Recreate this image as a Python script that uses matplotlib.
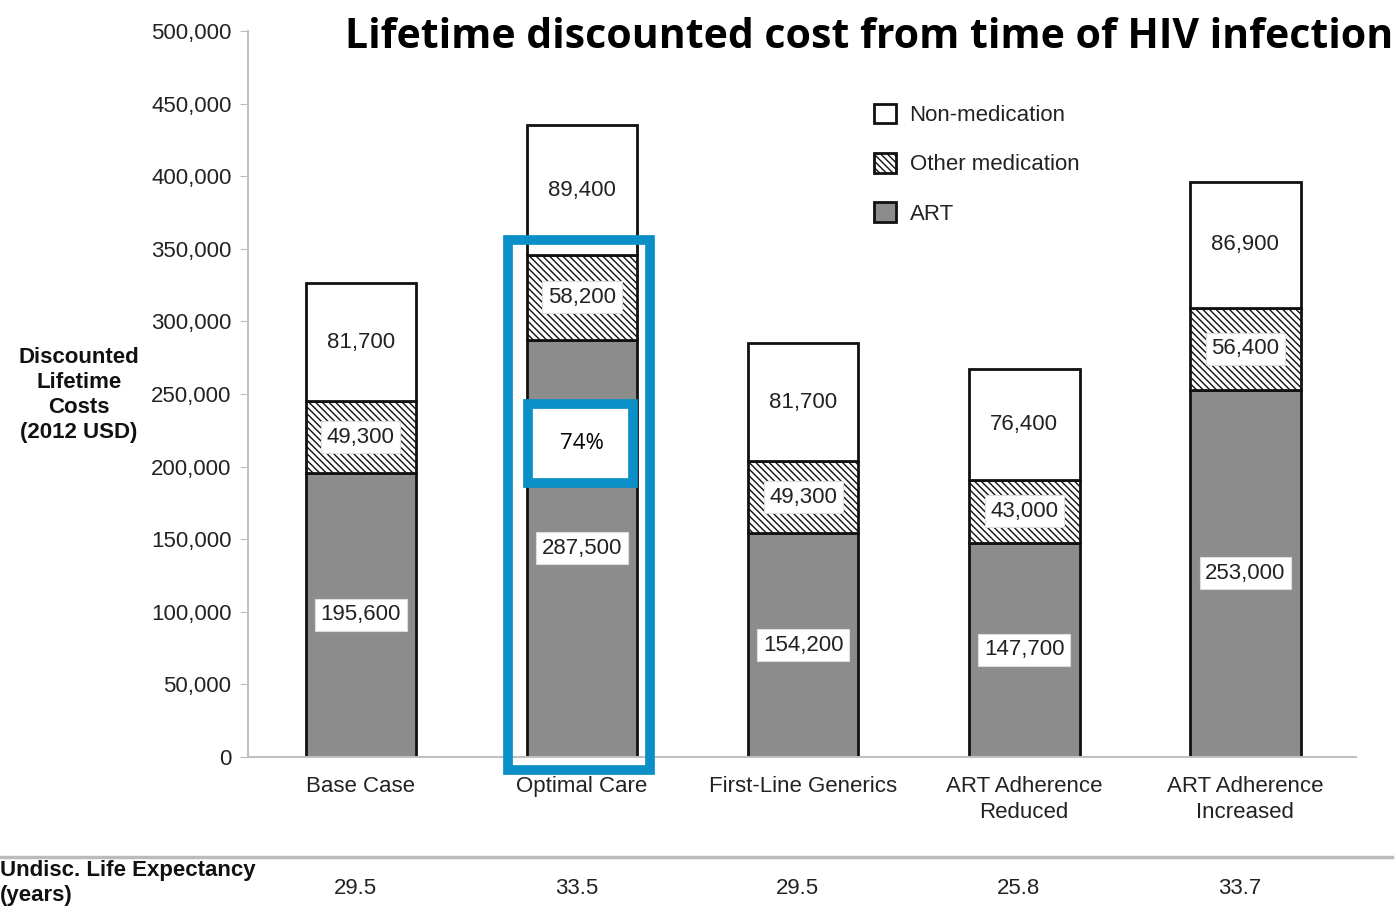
import numpy as np
import matplotlib
matplotlib.use('Agg')
import matplotlib.pyplot as plt
from matplotlib.patches import Rectangle

# ── Data ─────────────────────────────────────────────────────────────────────
scenarios = ['Base Case', 'Optimal Care', 'First-Line Generics',
             'ART Adherence\nReduced', 'ART Adherence\nIncreased']
art = [195600, 287500, 154200, 147700, 253000]
other_med = [49300, 58200, 49300, 43000, 56400]
non_med = [81700, 89400, 81700, 76400, 86900]
life_exp = ['29.5', '33.5', '29.5', '25.8', '33.7']
yticks = [0, 50000, 100000, 150000, 200000, 250000, 300000, 350000, 400000, 450000, 500000]

plt.rcParams['font.family'] = ['Liberation Sans', 'DejaVu Sans']
plt.rcParams['hatch.linewidth'] = 1.0

fig = plt.figure(figsize=(13.96, 9.22), dpi=100)
ax = fig.add_axes([0.1777, 0.179, 0.7936, 0.7874])

x = np.arange(len(scenarios))
w = 0.5
art = np.array(art)
other_med = np.array(other_med)
non_med = np.array(non_med)

b1 = ax.bar(x, art, w, color='#8c8c8c', edgecolor='#111111', linewidth=2, label='ART')
b2 = ax.bar(x, other_med, w, bottom=art, color='white', edgecolor='#111111',
            hatch='\\\\\\\\\\', linewidth=2, label='Other medication')
b3 = ax.bar(x, non_med, w, bottom=art + other_med, color='white', edgecolor='#111111',
            linewidth=2, label='Non-medication')

box = dict(boxstyle='square,pad=0.25', fc='white', ec='#dddddd', lw=0.8)
for i in range(len(x)):
    ax.text(x[i], art[i] / 2, f'{art[i]:,}', ha='center', va='center',
            fontsize=16, color='#222222', bbox=box)
    ax.text(x[i], art[i] + other_med[i] / 2, f'{other_med[i]:,}', ha='center', va='center',
            fontsize=16, color='#222222', bbox=box)
    ax.text(x[i], art[i] + other_med[i] + non_med[i] / 2, f'{non_med[i]:,}',
            ha='center', va='center', fontsize=16, color='#222222')

ax.set_xlim(-0.51, 4.5)
ax.set_ylim(0, 500000)
ax.set_yticks(yticks)
ax.set_yticklabels([f'{v:,}' for v in yticks], fontsize=16, color='#222222')
ax.set_xticks(x)
ax.set_xticklabels(scenarios, fontsize=16, color='#222222', linespacing=1.3)
ax.tick_params(axis='x', length=0, pad=14)
ax.tick_params(axis='y', length=6, color='#bbbbbb', pad=6)
for s in ['top', 'right']:
    ax.spines[s].set_visible(False)
for s in ['left', 'bottom']:
    ax.spines[s].set_color('#c0c0c0')
    ax.spines[s].set_linewidth(1.5)

fig.text(79 / 1396, 1 - 395 / 922, 'Discounted\nLifetime\nCosts\n(2012 USD)', ha='center',
         va='center', fontsize=16, fontweight='bold', color='#111111', linespacing=1.25)

# legend
leg = ax.legend(handles=[b3, b2, b1], loc='upper left', bbox_to_anchor=(0.565, 0.90),
                borderaxespad=0, borderpad=0, frameon=False, fontsize=16,
                handlelength=1.0, handleheight=1.0, labelspacing=1.2, handletextpad=0.6)
for t in leg.get_texts():
    t.set_color('#222222')

# highlight boxes around Optimal Care
blue = '#0a8fc6'
ax.add_patch(Rectangle((0.665, -9000), 0.643, 365000, fill=False, ec=blue, lw=7,
                       clip_on=False, zorder=5))
ax.add_patch(Rectangle((0.755, 189000), 0.475, 54000, fc='white', ec=blue, lw=7,
                       clip_on=False, zorder=5))
ax.text(1, 216000, '74%', ha='center', va='center', fontsize=16,
        family=['Open Sans', 'DejaVu Sans'], zorder=6)

# title
fig.text(345 / 1396, 1 - 38 / 922, 'Lifetime discounted cost from time of HIV infection',
         ha='left', va='center', fontsize=29.5, fontweight='bold',
         family=['Open Sans', 'DejaVu Sans'])

# life expectancy row
fig.add_artist(plt.Line2D([0, 0.997], [1 - 857 / 922] * 2, color='#bbbbbb', lw=2.5,
                          transform=fig.transFigure))
fig.text(0.0, 1 - 883 / 922, 'Undisc. Life Expectancy\n(years)', ha='left', va='center',
         fontsize=16, fontweight='bold', color='#111111', linespacing=1.2)
for i, v in enumerate(life_exp):
    xf = fig.transFigure.inverted().transform(ax.transData.transform((x[i], 0)))[0]
    fig.text(xf - 0.004, 1 - 888 / 922, v, ha='center', va='center', fontsize=16,
             color='#222222')

plt.savefig('out.png', dpi=100)
